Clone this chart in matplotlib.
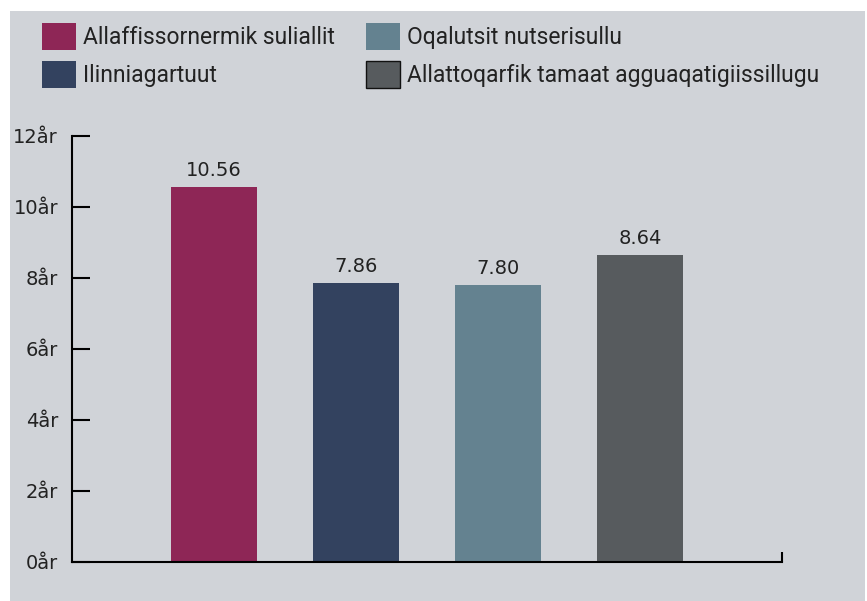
import matplotlib.pyplot as plt
from matplotlib.patches import Patch, Rectangle

categories = ['Allaffissornermik suliallit', 'Ilinniagartuut',
              'Oqalutsit nutserisullu', 'Allattoqarfik tamaat agguaqatigiissillugu']
values = [10.56, 7.86, 7.80, 8.64]
colors = ['#8e2656', '#33425f', '#648290', '#575b5e']
yticks = [0, 2, 4, 6, 8, 10, 12]
ytick_labels = ['0år', '2år', '4år', '6år', '8år', '10år', '12år']

W, H = 867, 601
fig = plt.figure(figsize=(W / 100, H / 100), dpi=100, facecolor='white')
fig.patches.append(Rectangle((10 / W, 0), 855 / W, (H - 11) / H,
                             transform=fig.transFigure, facecolor='#d0d3d8',
                             edgecolor='none', zorder=-10))

ax = fig.add_axes([72 / W, (H - 561.7) / H, 710 / W, 426 / H])
ax.set_facecolor('none')

x = range(len(values))
bars = ax.bar(x, values, width=0.6, color=colors)
for b, v in zip(bars, values):
    ax.annotate(f'{v:.2f}', (b.get_x() + b.get_width() / 2, v),
                xytext=(0, 5), textcoords='offset points',
                ha='center', va='bottom', fontsize=14, color='#222222')

ax.set_xlim(-1, 4)
ax.set_ylim(0, 12)
ax.set_yticks(yticks)
ax.set_yticklabels(ytick_labels)
ax.set_xticks([4])
ax.set_xticklabels([''])
ax.tick_params(axis='y', direction='in', length=13, width=1.5, pad=10,
               labelsize=14, labelcolor='#222222')
ax.tick_params(axis='x', direction='in', length=7, width=1.5)
for s in ['top', 'right']:
    ax.spines[s].set_visible(False)
for s in ['left', 'bottom']:
    ax.spines[s].set_linewidth(1.5)
    ax.spines[s].set_color('black')

handles = [Patch(facecolor=c, edgecolor='none') for c in colors[:3]]
handles.append(Patch(facecolor=colors[3], edgecolor='#111111', linewidth=1))
fig.legend(handles, categories, ncol=2, loc='upper left',
           bbox_to_anchor=(42 / W, 1 - 23 / H), frameon=False,
           prop={'family': ['Roboto', 'DejaVu Sans'], 'size': 16.5},
           borderpad=0, borderaxespad=0, handlelength=1.48, handleheight=1.44,
           handletextpad=0.31, columnspacing=1.35, labelspacing=0.48,
           labelcolor='#222222')

fig.savefig('out.png', dpi=100, facecolor='white')
